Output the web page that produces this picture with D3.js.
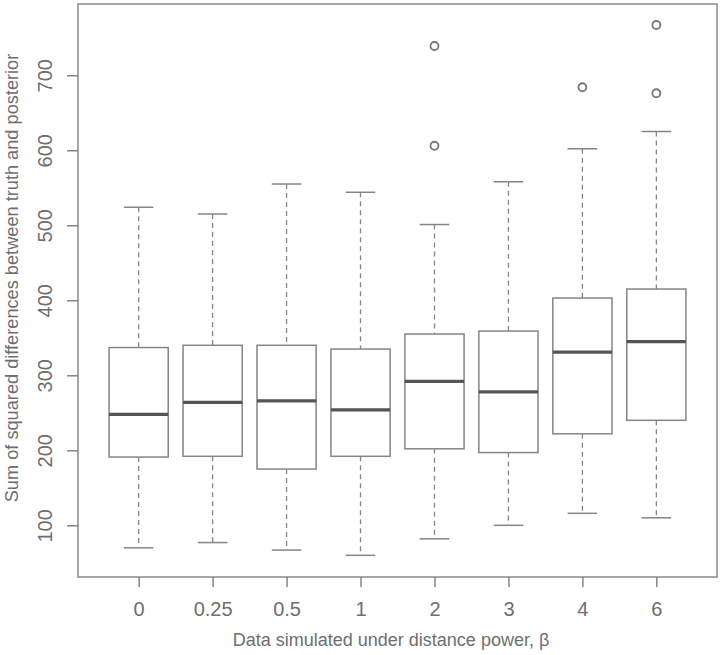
<!DOCTYPE html>
<html>
<head>
<meta charset="utf-8">
<script src="https://cdn.jsdelivr.net/npm/d3@7"></script>
<style>
  body { margin: 0; background: #fff; }
  text { font-family: "Liberation Sans", Arial, sans-serif; fill: #6e6e6e; }
</style>
</head>
<body>
<div class="canvas"></div>
<script>
// categories (beta)
const categories = ["0", "0.25", "0.5", "1", "2", "3", "4", "6"];

// box statistics
const lowerWhisker = [70, 77, 67, 60, 82, 100, 116, 110];
const q1 = [191, 192, 175, 192, 202, 197, 222, 240];
const medians = [248, 264, 266, 254, 292, 278, 331, 345];
const q3 = [337, 340, 340, 335, 355, 359, 403, 415];
const upperWhisker = [524, 515, 555, 544, 501, 558, 602, 625];
const outliers = [[], [], [], [], [606, 739], [], [684], [676, 767]];

const yTicks = [100, 200, 300, 400, 500, 600, 700];

const margin = { top: 4, right: 3, bottom: 78, left: 78 };
const width = 720, height = 655;
const graphWidth = width - margin.left - margin.right;
const graphHeight = height - margin.top - margin.bottom;

const svg = d3
  .select(".canvas")
  .append("svg")
  .attr("width", width)
  .attr("height", height);

const graph = svg
  .append("g")
  .attr("transform", `translate(${margin.left}, ${margin.top})`);

// scales (R style: 4% extension of the data range)
const x = d3.scaleLinear().domain([0.18, 8.82]).range([0, graphWidth]);
const y = d3.scaleLinear().domain([31.1, 795]).range([graphHeight, 0]);

const boxW = 0.8 * (x(2) - x(1));
const capW = boxW / 2;
const grey = "#858585";

const stats = categories.map((c, i) => ({
  c, i: i + 1,
  lo: lowerWhisker[i], q1: q1[i], med: medians[i], q3: q3[i], hi: upperWhisker[i],
  out: outliers[i]
}));

const boxes = graph.selectAll("g.box").data(stats).enter().append("g").attr("class", "box");

// whiskers
boxes.append("line")
  .attr("x1", d => x(d.i)).attr("x2", d => x(d.i))
  .attr("y1", d => y(d.hi)).attr("y2", d => y(d.q3))
  .attr("stroke", grey).attr("stroke-width", 1.3).attr("stroke-dasharray", "5,4");
boxes.append("line")
  .attr("x1", d => x(d.i)).attr("x2", d => x(d.i))
  .attr("y1", d => y(d.q1)).attr("y2", d => y(d.lo))
  .attr("stroke", grey).attr("stroke-width", 1.3).attr("stroke-dasharray", "5,4");

// caps
boxes.append("line")
  .attr("x1", d => x(d.i) - capW / 2).attr("x2", d => x(d.i) + capW / 2)
  .attr("y1", d => y(d.hi)).attr("y2", d => y(d.hi))
  .attr("stroke", grey).attr("stroke-width", 1.5);
boxes.append("line")
  .attr("x1", d => x(d.i) - capW / 2).attr("x2", d => x(d.i) + capW / 2)
  .attr("y1", d => y(d.lo)).attr("y2", d => y(d.lo))
  .attr("stroke", grey).attr("stroke-width", 1.5);

// box
boxes.append("rect")
  .attr("x", d => x(d.i) - boxW / 2)
  .attr("y", d => y(d.q3))
  .attr("width", boxW)
  .attr("height", d => y(d.q1) - y(d.q3))
  .attr("fill", "#fff")
  .attr("stroke", grey)
  .attr("stroke-width", 1.5);

// median
boxes.append("line")
  .attr("x1", d => x(d.i) - boxW / 2).attr("x2", d => x(d.i) + boxW / 2)
  .attr("y1", d => y(d.med)).attr("y2", d => y(d.med))
  .attr("stroke", "#555").attr("stroke-width", 3.2);

// outliers
boxes.selectAll("circle")
  .data(d => d.out.map(v => ({ i: d.i, v })))
  .enter().append("circle")
  .attr("cx", d => x(d.i))
  .attr("cy", d => y(d.v))
  .attr("r", 4)
  .attr("fill", "none")
  .attr("stroke", "#777")
  .attr("stroke-width", 1.8);

// frame
graph.append("rect")
  .attr("width", graphWidth).attr("height", graphHeight)
  .attr("fill", "none").attr("stroke", "#8a8a8a").attr("stroke-width", 1.5);

// axes
const xAxis = d3.axisBottom(x)
  .tickValues(d3.range(1, 9))
  .tickFormat(d => categories[d - 1])
  .tickSize(10).tickPadding(15);
const yAxis = d3.axisLeft(y)
  .tickValues(yTicks)
  .tickSize(11).tickPadding(9);

const xAxisGroup = graph.append("g")
  .attr("transform", `translate(0, ${graphHeight})`)
  .call(xAxis);
const yAxisGroup = graph.append("g").call(yAxis);

[xAxisGroup, yAxisGroup].forEach(g => {
  g.select(".domain").remove();
  g.selectAll(".tick line").attr("stroke", grey).attr("stroke-width", 1.5);
  g.selectAll(".tick text")
    .attr("font-size", 20)
    .attr("fill", "#6e6e6e")
    .style("font-family", "'Liberation Sans', Arial, sans-serif");
});

// rotate y tick labels (R las=0)
yAxisGroup.selectAll(".tick text")
  .attr("transform", "rotate(-90)")
  .attr("x", 0)
  .attr("y", -33)
  .attr("dy", "0.35em")
  .attr("text-anchor", "middle");

// axis titles
svg.append("text")
  .attr("x", 391)
  .attr("y", 646)
  .attr("text-anchor", "middle")
  .attr("font-size", 18)
  .text("Data simulated under distance power, \u03b2");

svg.append("text")
  .attr("transform", "translate(18, 278) rotate(-90)")
  .attr("text-anchor", "middle")
  .attr("font-size", 18.2)
  .text("Sum of squared differences between truth and posterior");
</script>
</body>
</html>
